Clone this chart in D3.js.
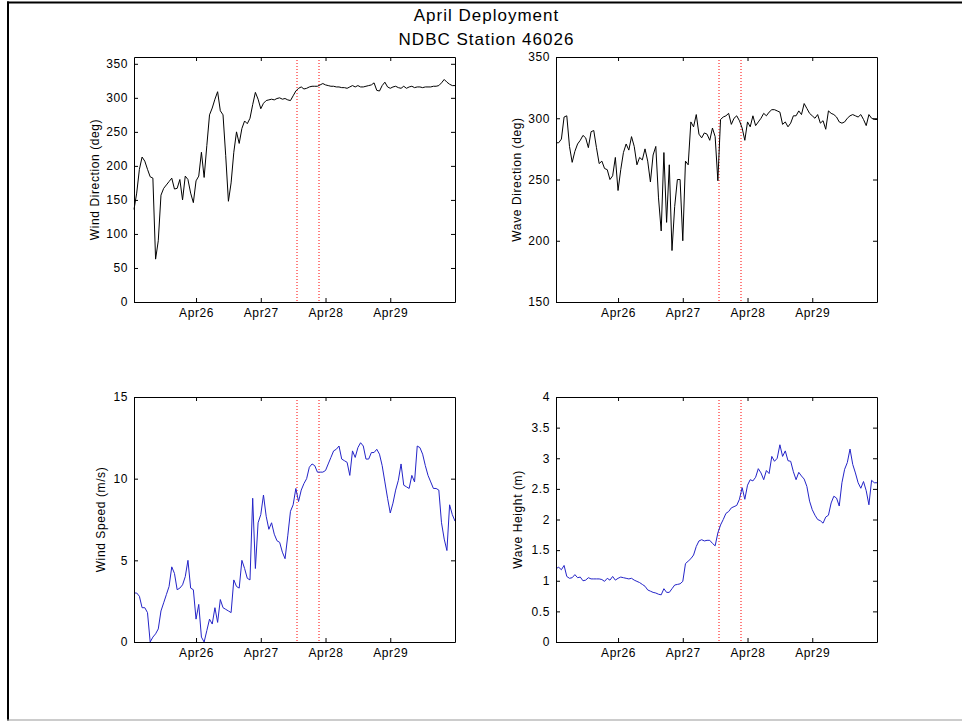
<!DOCTYPE html>
<html>
<head>
<meta charset="utf-8">
<script src="https://cdn.jsdelivr.net/npm/d3@7"></script>
<style>
  html, body { margin: 0; padding: 0; background: #fff; }
  svg { display: block; font-family: "Liberation Sans", Arial, Helvetica, sans-serif; }
  .tick text { font-size: 12px; letter-spacing: 0.6px; fill: #000; }
  .tick line, .domain { stroke: #000; }
</style>
</head>
<body>
<svg id="fig" width="962" height="721"></svg>
<script>
// Hourly buoy observations, Apr 25 01:00 through Apr 30 00:00
const startTime = new Date(2008, 3, 25, 1);
const endTime = new Date(2008, 3, 30, 0);
const times = d3.timeHour.range(startTime, d3.timeMinute.offset(endTime, 30));

const windDirection = [
  136,160,195,213,207,195,184,182,63,90,
  157,167,172,177,182,166,167,180,150,185,
  180,160,146,178,185,220,183,230,275,285,
  298,309,281,275,215,148,175,220,250,233,
  255,266,262,270,290,308,298,284,292,296,
  297,298,297,299,300,298,299,297,296,303,
  310,314,316,313,314,316,317,317,317,319,
  321,319,318,317,317,316,316,315,315,314,
  316,318,316,318,316,316,317,318,319,322,
  311,310,318,323,316,314,316,317,315,314,
  317,314,316,317,315,316,316,315,316,316,
  316,317,317,318,322,327,323,320,318,318
];

const waveDirection = [
  280,280,283,301,302,277,264,273,279,282,
  286,284,276,289,290,276,263,265,259,258,
  250,253,268,241,258,272,279,274,285,277,
  262,268,266,275,265,248,270,277,235,208,
  272,215,262,192,228,250,250,200,265,262,
  297,293,303,287,284,288,287,282,292,285,
  249,299,301,302,304,295,300,302,298,292,
  282,297,293,302,294,297,300,304,302,305,
  307,307,306,305,295,297,293,296,302,302,
  306,303,312,308,304,302,300,303,296,298,
  291,306,304,303,301,297,296,297,300,302,
  303,302,301,303,299,294,303,300,299,299
];

const windSpeed = [
  3.0,3.0,2.8,2.1,2.1,1.8,0.0,0.3,0.5,0.8,
  1.9,2.4,2.9,3.4,4.6,4.2,3.2,3.3,3.5,4.0,
  5.0,3.3,3.2,1.4,2.3,0.3,0.0,0.7,1.4,1.1,
  2.1,1.2,2.6,2.1,2.0,1.9,1.8,3.8,3.4,3.3,
  5.0,4.5,3.9,3.8,8.8,4.5,7.3,7.8,9.0,7.7,
  6.9,7.3,6.6,6.2,6.1,5.5,5.1,6.5,8.0,8.4,
  9.4,8.6,9.3,9.7,10.0,10.7,10.9,10.8,10.4,10.4,
  10.4,10.5,10.9,11.3,11.7,11.8,12.0,11.2,11.1,11.0,
  10.2,11.7,11.3,11.9,12.2,12.0,11.2,11.2,11.6,11.6,
  11.8,11.5,10.8,9.8,8.8,7.9,8.5,9.3,9.9,10.9,
  9.6,9.5,9.4,10.2,9.8,12.0,11.9,11.5,10.8,10.2,
  9.8,9.4,9.4,9.3,7.3,6.3,5.6,8.4,7.8,7.4
];

const waveHeight = [
  1.20,1.22,1.18,1.25,1.07,1.04,1.05,1.10,1.05,1.06,
  1.00,1.01,1.05,1.03,1.03,1.03,1.03,1.02,0.99,1.04,
  1.01,1.07,1.01,1.04,1.06,1.05,1.04,1.03,1.04,1.01,
  0.99,0.97,0.94,0.91,0.85,0.83,0.81,0.80,0.78,0.77,
  0.87,0.81,0.81,0.87,0.93,0.94,0.95,0.99,1.28,1.32,
  1.36,1.42,1.56,1.65,1.67,1.65,1.66,1.66,1.61,1.57,
  1.78,1.91,2.00,2.10,2.13,2.19,2.21,2.23,2.33,2.52,
  2.33,2.56,2.65,2.63,2.69,2.83,2.76,2.65,2.80,2.75,
  3.03,2.95,3.00,3.22,3.03,3.12,2.96,2.95,2.78,2.65,
  2.77,2.71,2.66,2.54,2.30,2.16,2.07,2.00,1.98,1.94,
  2.04,2.07,2.27,2.38,2.35,2.22,2.60,2.82,2.93,3.15,
  2.90,2.76,2.60,2.51,2.62,2.47,2.24,2.64,2.60,2.60
];

// Deployment window markers
const deploymentMarks = [new Date(2008, 3, 27, 13, 30), new Date(2008, 3, 27, 21, 45)];

// Axis ticks
const dayTicks = [new Date(2008, 3, 26), new Date(2008, 3, 27), new Date(2008, 3, 28), new Date(2008, 3, 29)];
const windDirTicks = [0, 50, 100, 150, 200, 250, 300, 350];
const waveDirTicks = [150, 200, 250, 300, 350];
const windSpeedTicks = [0, 5, 10, 15];
const waveHeightTicks = [0, 0.5, 1, 1.5, 2, 2.5, 3, 3.5, 4];

const titleLines = ["April Deployment", "NDBC Station 46026"];

const panels = [
  { values: windDirection, domain: [0, 360], ticks: windDirTicks, label: "Wind Direction (deg)", color: "#000000", x: 134, y: 57, labelX: 99 },
  { values: waveDirection, domain: [150, 350], ticks: waveDirTicks, label: "Wave Direction (deg)", color: "#000000", x: 556, y: 57, labelX: 521 },
  { values: windSpeed, domain: [0, 15], ticks: windSpeedTicks, label: "Wind Speed (m/s)", color: "#2424c8", x: 134, y: 397, labelX: 105 },
  { values: waveHeight, domain: [0, 4], ticks: waveHeightTicks, label: "Wave Height (m)", color: "#2424c8", x: 556, y: 397, labelX: 521.5 }
];

const W = 321, H = 245, TICK = 4;
const svg = d3.select("#fig");

// Window frame
svg.append("rect").attr("x", 7).attr("y", 1.5).attr("width", 955).attr("height", 2).attr("fill", "#000");
svg.append("rect").attr("x", 7).attr("y", 1.5).attr("width", 2).attr("height", 719).attr("fill", "#000");
svg.append("rect").attr("x", 7).attr("y", 719.5).attr("width", 955).attr("height", 1).attr("fill", "#9a9a9a");

// Figure title
svg.append("g").selectAll("text").data(titleLines).join("text")
  .attr("x", 486.5)
  .attr("y", (d, i) => 21 + i * 24)
  .attr("text-anchor", "middle")
  .attr("font-size", 17)
  .attr("letter-spacing", "1px")
  .attr("fill", "#000")
  .text(d => d);

const fmtDay = d3.timeFormat("%b%d");

panels.forEach(p => {
  const g = svg.append("g").attr("transform", `translate(${p.x},${p.y})`);
  const x = d3.scaleTime().domain([startTime, endTime]).range([0, W]);
  const y = d3.scaleLinear().domain(p.domain).range([H, 0]);

  // Deployment markers (red dotted verticals)
  g.append("g").selectAll("line").data(deploymentMarks).join("line")
    .attr("x1", d => Math.round(x(d))).attr("x2", d => Math.round(x(d)))
    .attr("y1", 0).attr("y2", H)
    .attr("stroke", "#ff0000")
    .attr("stroke-width", 1)
    .attr("stroke-dasharray", "1,2");

  // Series line
  const line = d3.line().x((d, i) => x(times[i])).y(d => y(d));
  g.append("path")
    .datum(p.values)
    .attr("d", line)
    .attr("fill", "none")
    .attr("stroke", p.color)
    .attr("stroke-width", 1)
    .attr("stroke-linejoin", "round");

  // Axes: labelled bottom/left, tick-only top/right, all ticks pointing inward
  g.append("g").attr("transform", `translate(0,${H})`)
    .call(d3.axisBottom(x).tickValues(dayTicks).tickFormat(fmtDay).tickSize(-TICK).tickSizeOuter(0).tickPadding(6));
  g.append("g")
    .call(d3.axisTop(x).tickValues(dayTicks).tickFormat("").tickSize(-TICK).tickSizeOuter(0));
  g.append("g")
    .call(d3.axisLeft(y).tickValues(p.ticks).tickFormat(d3.format("~g")).tickSize(-TICK).tickSizeOuter(0).tickPadding(6));
  g.append("g").attr("transform", `translate(${W},0)`)
    .call(d3.axisRight(y).tickValues(p.ticks).tickFormat("").tickSize(-TICK).tickSizeOuter(0));

  g.selectAll(".tick text").attr("font-size", null).attr("font-family", null);

  // Y axis label
  svg.append("text")
    .attr("transform", `translate(${p.labelX},${p.y + H / 2}) rotate(-90)`)
    .attr("text-anchor", "middle")
    .attr("font-size", 12)
    .attr("letter-spacing", "0.6px")
    .attr("fill", "#000")
    .text(p.label);
});
</script>
</body>
</html>
